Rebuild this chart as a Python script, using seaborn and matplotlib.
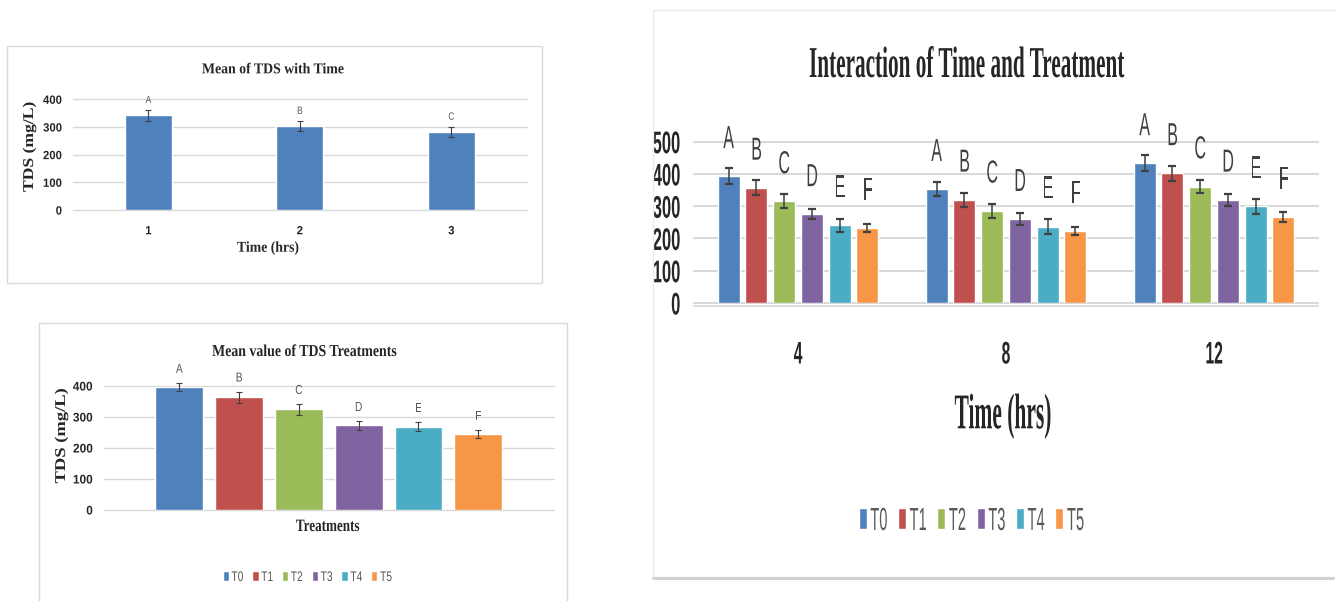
import numpy as np
import pandas as pd
import matplotlib
matplotlib.use("Agg")
import matplotlib.pyplot as plt
import seaborn as sns
from matplotlib.patches import Rectangle
from matplotlib.lines import Line2D
from matplotlib.patheffects import AbstractPathEffect
from matplotlib.transforms import Affine2D

# ---------------- data ----------------
time_hours = ["1", "2", "3"]
time_mean = [342, 304, 283]
time_err = [19, 18, 18]
time_groups = ["A", "B", "C"]

treatments = ["T0", "T1", "T2", "T3", "T4", "T5"]
treat_mean = [397, 363, 325, 273, 269, 245]
treat_err = [13, 19, 17, 14, 14, 13]
treat_groups = ["A", "B", "C", "D", "E", "F"]

interaction_hours = ["4", "8", "12"]
tds_4h = [393, 357, 315, 275, 241, 233]
tds_8h = [353, 320, 286, 260, 237, 223]
tds_12h = [433, 402, 361, 320, 300, 267]
err_4h = [24, 23, 22, 16, 20, 13]
err_8h = [22, 22, 22, 19, 22, 13]
err_12h = [25, 24, 20, 18, 23, 16]
interaction_groups = ["A", "B", "C", "D", "E", "F"]

treatment_colors = ["#4F81BD", "#C0504D", "#9BBB59", "#8064A2", "#4BACC6", "#F79646"]

# ---------------- style ----------------
sns.set_style("white")
plt.rcParams["font.family"] = ["Liberation Sans", "DejaVu Sans"]
SERIF = ["Liberation Serif", "DejaVu Serif"]
SANS = ["Liberation Sans", "DejaVu Sans"]
GRID = "#d9d9d9"
ERR = "#404040"

W, H = 1335, 601
fig = plt.figure(figsize=(W / 100, H / 100), dpi=100)
fig.patch.set_facecolor("white")


class Squeeze(AbstractPathEffect):
    """Scale glyph outlines horizontally (narrow typeface look)."""

    def __init__(self, sx, anchor="center"):
        super().__init__()
        self.sx = sx
        self.anchor = anchor

    def draw_path(self, renderer, gc, tpath, affine, rgbFace=None):
        ext = tpath.get_extents()
        cx = {"left": ext.x0, "center": 0.5 * (ext.x0 + ext.x1), "right": ext.x1}[self.anchor]
        sq = Affine2D().translate(-cx, 0).scale(self.sx, 1).translate(cx, 0)
        renderer.draw_path(gc, tpath, sq + affine, rgbFace)


def rect_px(r):
    x0, y0, x1, y1 = r
    return [x0 / W, 1 - y1 / H, (x1 - x0) / W, (y1 - y0) / H]


def ax_xy(r, x, y):
    x0, y0, x1, y1 = r
    return (x - x0) / (x1 - x0), (y1 - y) / (y1 - y0)


def fig_xy(x, y):
    return x / W, 1 - y / H


def style_ticks(ax, size, sx_x, sx_y):
    for lbl in ax.get_xticklabels():
        lbl.set_fontsize(size)
        lbl.set_fontweight("bold")
        lbl.set_family(SANS)
        lbl.set_path_effects([Squeeze(sx_x, "center")])
    for lbl in ax.get_yticklabels():
        lbl.set_fontsize(size)
        lbl.set_fontweight("bold")
        lbl.set_family(SANS)
        lbl.set_path_effects([Squeeze(sx_y, "right")])


# ---------------- panel frames ----------------
def frame(x0, y0, x1, y1, color, lw):
    fig.add_artist(Rectangle(fig_xy(x0, y1), (x1 - x0) / W, (y1 - y0) / H,
                             transform=fig.transFigure, fill=False, ec=color, lw=lw))

frame(6.7, 46, 541.5, 283, "#d9d9d9", 1.0)
frame(39.3, 323, 567, 640, "#d9d9d9", 1.0)
frame(653, 10, 1340, 577, "#ececec", 1.0)
fig.add_artist(Line2D([653 / W, 1333 / W], [1 - 577.5 / H] * 2, transform=fig.transFigure,
                      color="#d2d2d2", lw=2.2))

# ---------------- panel 1: mean TDS by time ----------------
R1 = (72.7, 99.3, 527, 210)
ax1 = fig.add_axes(rect_px(R1))
df_time = pd.DataFrame({"Time (hrs)": time_hours, "TDS": time_mean})
sns.barplot(data=df_time, x="Time (hrs)", y="TDS", color="#4F81BD", width=0.31,
            saturation=1, errorbar=None, ax=ax1)
xs1 = [b.get_x() + b.get_width() / 2 for b in ax1.containers[0]]
ax1.errorbar(xs1, time_mean, yerr=time_err, fmt="none", ecolor=ERR, elinewidth=0.8,
             capsize=2.2, capthick=0.8, zorder=3, clip_on=False)
for x, m, e, g in zip(xs1, time_mean, time_err, time_groups):
    ax1.text(x, m + e + 36, g, ha="center", va="center", fontsize=7.6, color="#595959",
             family=SANS, path_effects=[Squeeze(0.8)], clip_on=False)
ax1.set_xlim(-0.5, 2.5)
ax1.set_ylim(0, 400)
ax1.set_yticks(range(0, 401, 100))
ax1.yaxis.grid(True, color=GRID, lw=1.0)
ax1.set_axisbelow(True)
sns.despine(ax=ax1, left=True, bottom=True)
ax1.tick_params(length=0)
ax1.tick_params(axis="y", pad=7.6)
ax1.tick_params(axis="x", pad=11.0)
style_ticks(ax1, 8.6, 0.95, 0.95)
for gl in ax1.get_ygridlines():
    gl.set_clip_on(False)
t1 = ax1.set_title("Mean of TDS with Time", x=ax_xy(R1, 273, 0)[0], y=ax_xy(R1, 0, 73.3)[1],
                   pad=0, va="baseline", fontsize=10.8, fontweight="bold", family=SERIF)
ax1.set_xlabel("Time (hrs)", fontsize=10.8, fontweight="bold", family=SERIF)
ax1.xaxis.set_label_coords(*ax_xy(R1, 268, 251.7))
ax1.xaxis.label.set_va("baseline")
ax1.set_ylabel("TDS (mg/L)", fontsize=10.8, fontweight="bold", family=SERIF,
               rotation=90, rotation_mode="anchor", ha="center", va="baseline")
ax1.yaxis.set_label_coords(*ax_xy(R1, 33, 147))

# ---------------- panel 2: mean TDS by treatment ----------------
R2 = (104, 386, 553.5, 510)
ax2 = fig.add_axes(rect_px(R2))
df_treat = pd.DataFrame({"Treatment": treatments, "TDS": treat_mean})
sns.barplot(data=df_treat, x="Treatment", y="TDS", hue="Treatment", hue_order=treatments,
            palette=treatment_colors, width=0.8, saturation=1, errorbar=None,
            legend=False, ax=ax2)
bars2 = [c[0] for c in ax2.containers]
xs2 = [b.get_x() + b.get_width() / 2 for b in bars2]
ax2.errorbar(xs2, treat_mean, yerr=treat_err, fmt="none", ecolor=ERR, elinewidth=0.8,
             capsize=2.2, capthick=0.8, zorder=3, clip_on=False)
for x, m, e, g in zip(xs2, treat_mean, treat_err, treat_groups):
    ax2.text(x, m + e + 42, g, ha="center", va="center", fontsize=9.4, color="#595959",
             family=SANS, path_effects=[Squeeze(0.78)], clip_on=False)
ax2.set_xlim(-1.26, 6.26)
ax2.set_ylim(0, 400)
ax2.set_yticks(range(0, 401, 100))
ax2.yaxis.grid(True, color=GRID, lw=1.0)
ax2.set_axisbelow(True)
sns.despine(ax=ax2, left=True, bottom=True)
ax2.tick_params(length=0)
ax2.tick_params(axis="x", labelbottom=False)
ax2.tick_params(axis="y", pad=8.0)
style_ticks(ax2, 9.0, 0.95, 0.95)
for gl in ax2.get_ygridlines():
    gl.set_clip_on(False)
t2 = ax2.set_title("Mean value of TDS Treatments", x=ax_xy(R2, 304, 0)[0],
                   y=ax_xy(R2, 0, 356)[1], pad=0, va="baseline", fontsize=12,
                   fontweight="bold", family=SERIF)
ax2.set_xlabel("Treatments", fontsize=12.5, fontweight="bold", family=SERIF)
ax2.xaxis.set_label_coords(*ax_xy(R2, 328, 531))
ax2.xaxis.label.set_va("baseline")
ax2.set_ylabel("TDS (mg/L)", fontsize=10.8, fontweight="bold", family=SERIF,
               rotation=90, rotation_mode="anchor", ha="center", va="baseline")
ax2.yaxis.set_label_coords(*ax_xy(R2, 65, 436))
leg2 = ax2.legend(bars2, treatments, ncol=6, loc="center left",
                  bbox_to_anchor=fig_xy(222.6, 577), bbox_transform=fig.transFigure,
                  frameon=False, prop={"family": SANS, "size": 10},
                  handlelength=0.45, handleheight=0.7, handletextpad=0.18,
                  columnspacing=0.34, borderpad=0, borderaxespad=0, labelcolor="#595959")
for t in leg2.get_texts():
    t.set_path_effects([Squeeze(0.74, "left")])

# ---------------- panel 3: time x treatment interaction ----------------
R3 = (694, 141.7, 1318, 303)
ax3 = fig.add_axes(rect_px(R3))
df_inter = pd.DataFrame({
    "Time (hrs)": np.repeat(interaction_hours, len(treatments)),
    "Treatment": treatments * len(interaction_hours),
    "TDS": tds_4h + tds_8h + tds_12h,
})
sns.barplot(data=df_inter, x="Time (hrs)", y="TDS", hue="Treatment",
            order=interaction_hours, hue_order=treatments, palette=treatment_colors,
            width=0.8, gap=0.2, saturation=1, errorbar=None, legend=False, ax=ax3)
bar_sets3 = list(ax3.containers)
by_time_vals = [tds_4h, tds_8h, tds_12h]
by_time_errs = [err_4h, err_8h, err_12h]
for j, cont in enumerate(bar_sets3):
    xs = [b.get_x() + b.get_width() / 2 for b in cont]
    vals = [v[j] for v in by_time_vals]
    errs = [e[j] for e in by_time_errs]
    ax3.errorbar(xs, vals, yerr=errs, fmt="none", ecolor=ERR, elinewidth=1.1,
                 capsize=2.6, capthick=1.6, zorder=3, clip_on=False)
    for x, v in zip(xs, vals):
        ax3.text(x, v + 112, interaction_groups[j], ha="center", va="center",
                 fontsize=23, color="#404040", family=SANS,
                 path_effects=[Squeeze(0.5)], clip_on=False)
ax3.set_xlim(-0.5, 2.5)
ax3.set_ylim(0, 500)
ax3.set_yticks(range(0, 501, 100))
ax3.yaxis.grid(True, color=GRID, lw=1.5)
ax3.set_axisbelow(True)
sns.despine(ax=ax3, left=True)
ax3.spines["bottom"].set_color(GRID)
ax3.spines["bottom"].set_linewidth(1.3)
ax3.spines["bottom"].set_position(("outward", 2.5))
ax3.set_xticks([-0.5, 0.5, 1.5, 2.5], minor=True)
ax3.tick_params(which="major", length=0)
ax3.tick_params(which="minor", axis="x", length=8, width=1.1, color=GRID)
ax3.tick_params(axis="y", pad=9.4)
ax3.tick_params(axis="x", which="major", pad=24.5)
style_ticks(ax3, 22.5, 0.5, 0.53)
for gl in ax3.get_ygridlines():
    gl.set_clip_on(False)
t3 = ax3.set_title("Interaction of Time and Treatment", x=ax_xy(R3, 966, 0)[0],
                   y=ax_xy(R3, 0, 77)[1], pad=0, va="baseline", fontsize=31.7,
                   fontweight="bold", family=SERIF)
ax3.set_xlabel("Time (hrs)", fontsize=36, fontweight="bold", family=SERIF)
ax3.xaxis.set_label_coords(*ax_xy(R3, 1003.5, 428.3))
ax3.xaxis.label.set_va("baseline")
ax3.set_ylabel("")
leg3 = ax3.legend([c[0] for c in bar_sets3], treatments, ncol=6, loc="center left",
                  bbox_to_anchor=fig_xy(858.7, 522), bbox_transform=fig.transFigure,
                  frameon=False, prop={"family": SANS, "size": 23},
                  handlelength=0.25, handleheight=0.62, handletextpad=0.1,
                  columnspacing=-0.29, borderpad=0, borderaxespad=0, labelcolor="#595959")
for t in leg3.get_texts():
    t.set_path_effects([Squeeze(0.46, "left")])

# ---------------- narrow the serif headings to their target widths ----------------
fig.canvas.draw()
renderer = fig.canvas.get_renderer()


def squeeze_to(t, target, anchor="center", vertical=False):
    bb = t.get_window_extent(renderer)
    n = bb.height if vertical else bb.width
    t.set_path_effects([Squeeze(target / n, anchor)])


squeeze_to(t1, 142)
squeeze_to(ax1.xaxis.label, 62)
squeeze_to(ax1.yaxis.label, 90, vertical=True)
squeeze_to(t2, 184)
squeeze_to(ax2.xaxis.label, 64)
squeeze_to(ax2.yaxis.label, 95, vertical=True)
squeeze_to(t3, 315)
squeeze_to(ax3.xaxis.label, 97)

fig.savefig("out.png", dpi=100, facecolor="white")
